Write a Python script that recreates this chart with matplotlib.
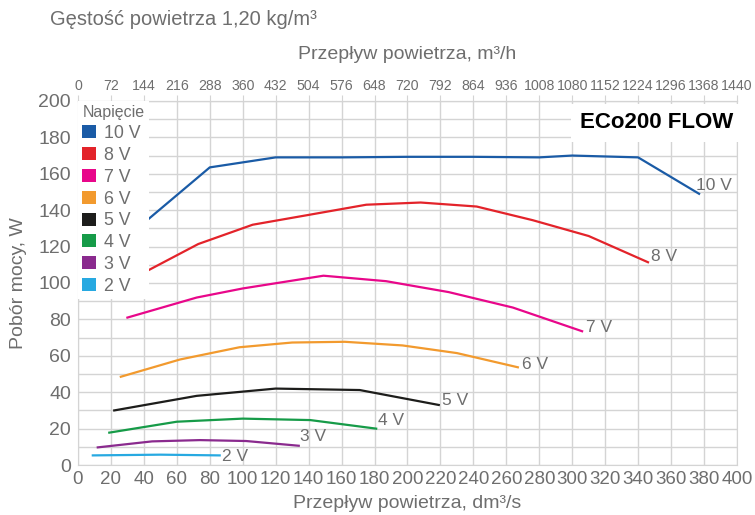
import matplotlib.pyplot as plt
from matplotlib.patches import Patch

plt.rcParams['font.family'] = ['Liberation Sans', 'DejaVu Sans']

# dane: przeplyw dm3/s -> pobor mocy W
napiecia = ['10 V', '8 V', '7 V', '6 V', '5 V', '4 V', '3 V', '2 V']
kolory = ['#1a5ba6', '#e3232a', '#e8078a', '#f29a2e', '#1d1d1b', '#169b48', '#8a2a8e', '#27a9e1']

x10 = [40, 80, 120, 160, 200, 240, 280, 300, 340, 377]
y10 = [133, 163.5, 169, 169, 169.3, 169.3, 169, 170, 169, 149]
x8 = [40, 73, 106, 140, 175, 208, 242, 276, 310, 346]
y8 = [105.7, 121.4, 132, 137.4, 143, 144.2, 142, 134.5, 125.8, 111.4]
x7 = [30, 72, 100, 149, 187, 225, 264, 306]
y7 = [81, 92, 97, 104, 101, 95, 86.5, 73.5]
x6 = [26, 62, 98, 130, 162, 197, 230, 267]
y6 = [48.5, 58, 64.7, 67.3, 67.7, 65.7, 61.5, 53.7]
x5 = [22, 72, 120, 171, 219]
y5 = [30, 38, 42, 41.2, 33]
x4 = [19, 60, 100, 141, 181]
y4 = [17.8, 23.8, 25.5, 24.7, 20]
x3 = [12, 45, 74, 102, 134]
y3 = [9.7, 13, 13.7, 13.2, 10.6]
x2 = [9, 50, 86]
y2 = [5.3, 5.7, 5.3]

serie_x = [x10, x8, x7, x6, x5, x4, x3, x2]
serie_y = [y10, y8, y7, y6, y5, y4, y3, y2]
# przesuniecia etykiet na koncach krzywych (punkty)
offs = [(-2, 6), (2, 4), (3, 3), (3, 2), (2, 3), (1, 6), (1, 7), (2, -1)]

szary = '#6e6e6e'
siatka = '#d4d4d4'

fig = plt.figure(figsize=(7.55, 5.15), dpi=100)
ax = fig.add_axes([0.1033, 0.097, 0.8728, 0.707])

for xs, ys, c, lab, o in zip(serie_x, serie_y, kolory, napiecia, offs):
    ax.plot(xs, ys, color=c, lw=1.6, zorder=3)
    ax.annotate(lab, (xs[-1], ys[-1]), xytext=o, textcoords='offset points',
                fontsize=12.5, color=szary, va='center', ha='left', zorder=4)

ax.set_xlim(0, 400)
ax.set_ylim(0, 200)
ax.set_xticks(range(0, 401, 20))
ax.set_yticks(range(0, 201, 20))
ax.set_yticks(range(0, 201, 10), minor=True)
ax.grid(True, which='both', color=siatka, lw=1, zorder=0)
ax.set_axisbelow(True)
for s in ax.spines.values():
    s.set_color(siatka)
ax.tick_params(axis='x', length=0, labelsize=13.5, colors=szary, pad=4)
ax.tick_params(axis='y', length=0, labelsize=14, colors=szary, pad=5)
ax.tick_params(axis='y', which='minor', length=0)
ax.set_xlabel('Przepływ powietrza, dm³/s', fontsize=14, color=szary, labelpad=5)
ax.set_ylabel('Pobór mocy, W', fontsize=14, color=szary, labelpad=8)

sec = ax.secondary_xaxis('top', functions=(lambda v: v * 3.6, lambda v: v / 3.6))
sec.set_xticks(range(0, 1441, 72))
sec.tick_params(length=4, color=siatka, labelsize=10.2, colors=szary, pad=2)
sec.spines['top'].set_color(siatka)
sec.set_xlabel('Przepływ powietrza, m³/h', fontsize=14, color=szary, labelpad=14)

uchwyty = [Patch(facecolor=c, edgecolor='none') for c in kolory]
leg = ax.legend(uchwyty, napiecia, title='Napięcie', loc='upper left',
                bbox_to_anchor=(0, 1), borderaxespad=0, fontsize=12.8,
                title_fontsize=11.5, handlelength=0.75, handleheight=0.75,
                handletextpad=0.45, labelspacing=0.27, borderpad=0.25,
                frameon=True, fancybox=False, alignment='left')
leg.get_frame().set_facecolor('white')
leg.get_frame().set_edgecolor('none')
leg.get_frame().set_alpha(1)
leg.get_title().set_color(szary)
for t in leg.get_texts():
    t.set_color(szary)
leg.set_zorder(5)

ax.text(0.994, 0.94, 'ECo200 FLOW', transform=ax.transAxes, ha='right', va='center',
        fontsize=16, fontweight='bold', color='black', zorder=6,
        bbox=dict(facecolor='white', edgecolor='none', pad=6))

fig.text(0.066, 0.962, 'Gęstość powietrza 1,20 kg/m³', fontsize=14.5, color=szary,
         va='center', ha='left')

fig.savefig('out.png', dpi=100)
